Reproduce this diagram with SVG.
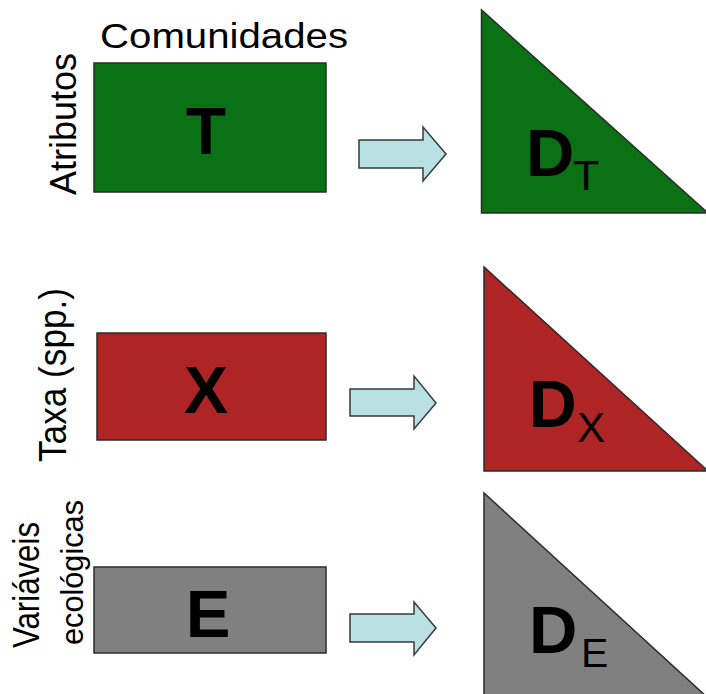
<svg xmlns="http://www.w3.org/2000/svg" width="706" height="694" viewBox="0 0 706 694">
  <style>
    .box { stroke: #2b2b2b; stroke-width: 1.5; }
    .tri { stroke: #2b2b2b; stroke-width: 1.5; }
    .arrow { fill: #b9e0e3; stroke: #3a3a3a; stroke-width: 1.5; stroke-linejoin: miter; }
    .label { font-family: "Liberation Sans", Arial, sans-serif; fill: #000; }
    .big { font-family: "Liberation Sans", Arial, sans-serif; font-weight: bold; fill: #000; }
    .sub { font-family: "Liberation Sans", Arial, sans-serif; fill: #000; }
    .green { fill: #0b7115; }
    .red { fill: #af2424; }
    .gray { fill: #808080; }
  </style>
  <rect width="706" height="694" fill="#ffffff"/>

  <!-- axis labels -->
  <g id="labels">
    <text class="label" x="100" y="48" font-size="35" textLength="248" lengthAdjust="spacingAndGlyphs">Comunidades</text>
    <text class="label" transform="translate(76,195) rotate(-90)" font-size="36" textLength="142" lengthAdjust="spacingAndGlyphs">Atributos</text>
    <text class="label" transform="translate(65.5,462) rotate(-90)" font-size="38" textLength="174" lengthAdjust="spacingAndGlyphs">Taxa (spp.)</text>
    <text class="label" transform="translate(38.5,648) rotate(-90)" font-size="36" textLength="126" lengthAdjust="spacingAndGlyphs">Variáveis</text>
    <text class="label" transform="translate(83,645) rotate(-90)" font-size="31" textLength="145" lengthAdjust="spacingAndGlyphs">ecológicas</text>
  </g>

  <!-- data matrices -->
  <g id="matrix-T">
    <rect class="box green" x="94" y="63" width="232" height="129"/>
    <text class="big" x="206" y="154" font-size="66" text-anchor="middle">T</text>
  </g>
  <g id="matrix-X">
    <rect class="box red" x="97" y="333" width="229" height="107"/>
    <text class="big" x="206" y="413" font-size="66" text-anchor="middle">X</text>
  </g>
  <g id="matrix-E">
    <rect class="box gray" x="94" y="567" width="232" height="86"/>
    <text class="big" x="208" y="637" font-size="67" text-anchor="middle">E</text>
  </g>

  <!-- distance matrices -->
  <g id="dist-T">
    <polygon class="tri green" points="481.5,10 481.5,213 708,213"/>
    <text class="big" x="526" y="176" font-size="67">D</text>
    <text class="sub" x="573" y="190" font-size="43">T</text>
  </g>
  <g id="dist-X">
    <polygon class="tri red" points="484,267 484,471 708,471"/>
    <text class="big" x="529" y="427" font-size="66">D</text>
    <text class="sub" x="577" y="442" font-size="42">X</text>
  </g>
  <g id="dist-E">
    <polygon class="tri gray" points="484,493 484,698 708,698"/>
    <text class="big" x="529" y="653" font-size="67">D</text>
    <text class="sub" x="581" y="667" font-size="41">E</text>
  </g>

  <!-- connectors -->
  <g id="connectors">
    <path class="arrow" d="M359,140 H423 V127 L446,154 L423,181 V168 H359 Z"/>
    <path class="arrow" d="M350,389 H414 V376 L436,403 L414,429 V416 H350 Z"/>
    <path class="arrow" d="M350,614 H414 V602 L436,628 L414,655 V642 H350 Z"/>
  </g>
</svg>
